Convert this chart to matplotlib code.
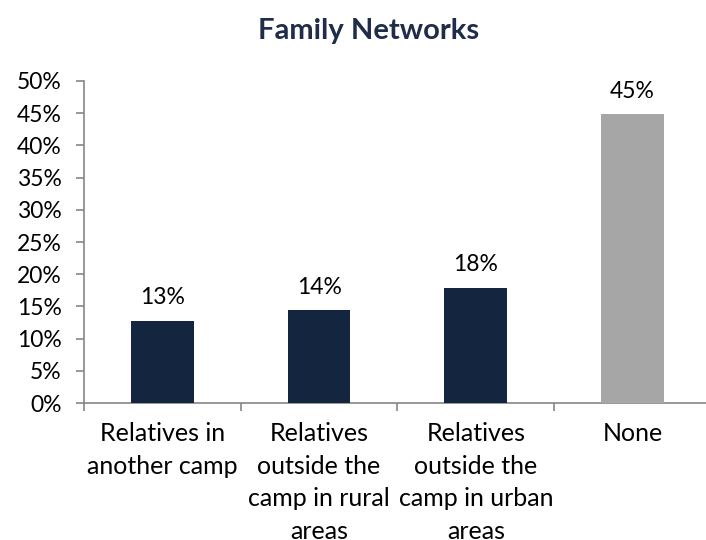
import matplotlib.pyplot as plt
from matplotlib.ticker import FixedLocator

categories = ['Relatives in\nanother camp', 'Relatives\noutside the\ncamp in rural\nareas',
              'Relatives\noutside the\ncamp in urban\nareas', 'None']
values = [12.8, 14.4, 17.9, 44.8]
labels = ['13%', '14%', '18%', '45%']
colors = ['#14253f', '#14253f', '#14253f', '#a6a6a6']

plt.rcParams['font.family'] = ['Lato', 'DejaVu Sans']

fig = plt.figure(figsize=(7.06, 5.4), dpi=100)
ax = fig.add_axes([0.119, 0.2537, 0.888, 0.5963])

x = [i + 0.5 for i in range(len(values))]
ax.bar(x, values, width=0.40, color=colors, zorder=3)
for xi, v, lab in zip(x, values, labels):
    ax.annotate(lab, (xi, v), xytext=(0, 9), textcoords='offset points',
                ha='center', va='bottom', fontsize=16.5, color='black')

ax.set_xlim(0, 4)
ax.set_ylim(0, 50)
ax.set_yticks(range(0, 51, 5))
ax.set_yticklabels([f'{t}%' for t in range(0, 51, 5)], fontsize=16.5)
ax.set_xticks(x)
ax.set_xticklabels(categories, fontsize=18, linespacing=1.5)
ax.tick_params(axis='x', length=0, pad=14)
ax.xaxis.set_minor_locator(FixedLocator([0, 1, 2, 3, 4]))
ax.tick_params(axis='x', which='minor', length=6, color='#868686', width=1.2)
ax.tick_params(axis='y', length=6, color='#868686', width=1.2, pad=10)

for s in ['top', 'right']:
    ax.spines[s].set_visible(False)
for s in ['left', 'bottom']:
    ax.spines[s].set_color('#868686')
    ax.spines[s].set_linewidth(1.2)

fig.text(0.522, 0.942, 'Family Networks', ha='center', va='center',
         fontsize=21, fontweight='bold', color='#1f2d4a')

fig.savefig('out.png', dpi=100)
